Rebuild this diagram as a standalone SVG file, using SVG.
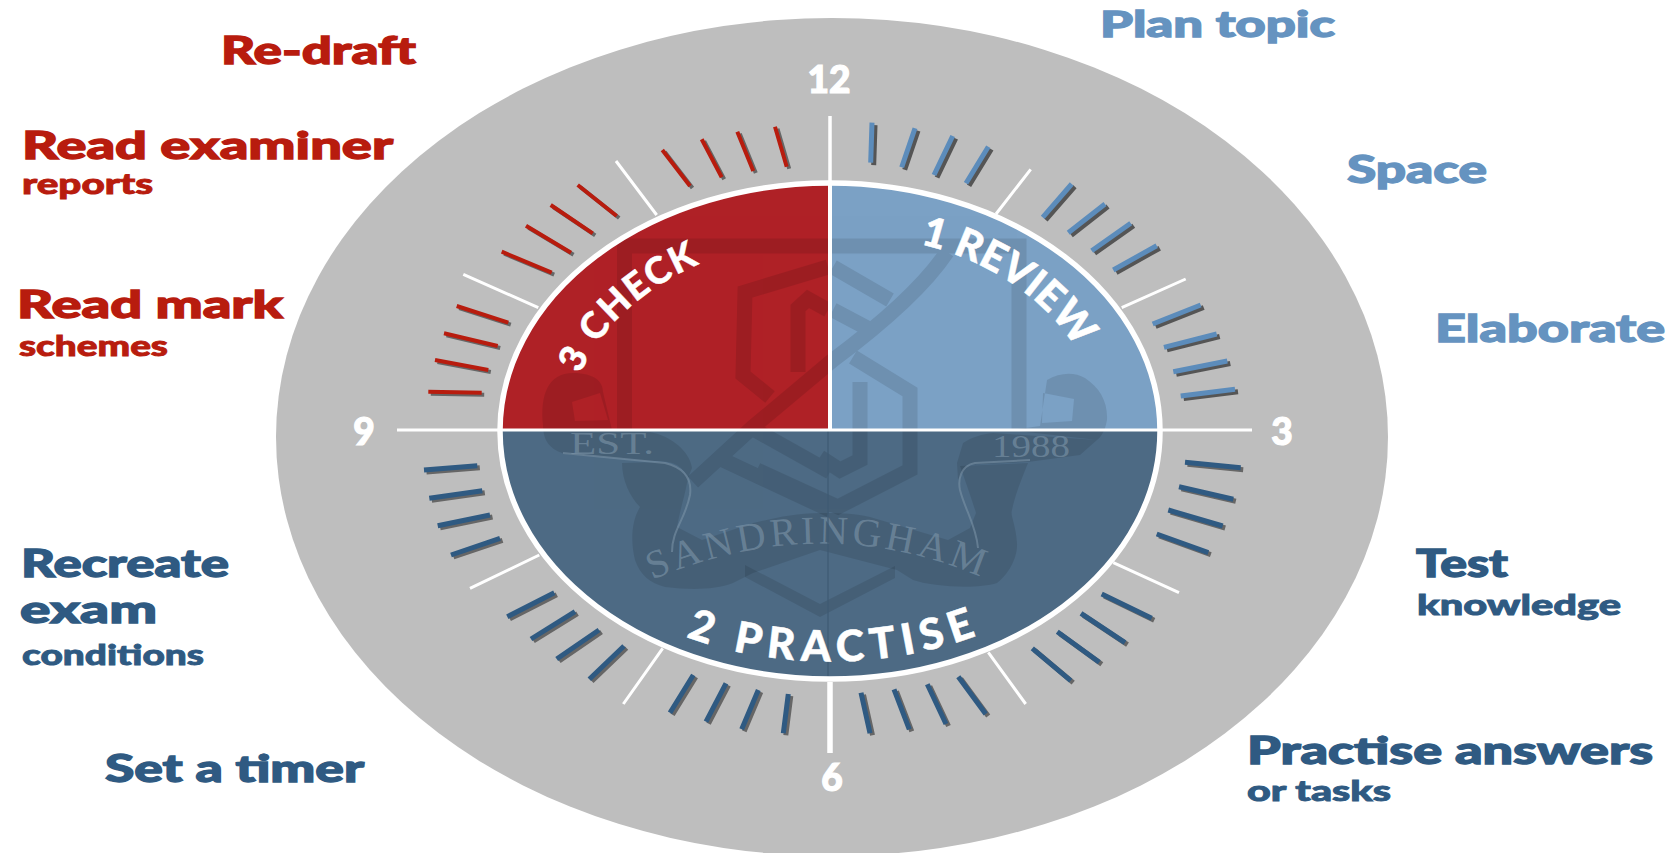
<svg xmlns="http://www.w3.org/2000/svg" xmlns:xlink="http://www.w3.org/1999/xlink" width="1673" height="853" viewBox="0 0 1673 853">
<style>
text{font-family:"Lato","Liberation Sans",sans-serif;font-weight:900}
.big{font-size:38px;stroke-width:1.3px}.small{font-size:29px;stroke-width:.9px}
.red{fill:#b81c0e;stroke:#b81c0e}.light{fill:#6593c0;stroke:#6593c0}.navy{fill:#2f5a82;stroke:#2f5a82}
.num{fill:#fff;stroke:#fff;stroke-width:1.2px;font-size:37px;text-anchor:middle}
.arc{fill:#fff;stroke:#fff;stroke-width:.5px}
.crest{font-family:"Liberation Serif",serif;font-weight:400;fill:#7d95a9;fill-opacity:.62}
.band{fill:none;stroke:#000;stroke-width:15;stroke-linejoin:miter}
.t{fill:none;stroke-width:4;stroke-linecap:butt}
.tb{stroke-width:5}
.wt{fill:none;stroke:#fff;stroke-linecap:butt}
</style>
<defs>
<clipPath id="inner"><ellipse cx="830" cy="431" rx="330" ry="249"/></clipPath>
<path id="tRed" d="M428.3 391.7L481.7 392.7M435 360L488.3 370M444 333.3L497.7 346M456.7 306L508.3 322.7M501.7 251.7L551.7 272.7M526 225.7L571 252.7M550.7 205L592.7 233.3M577.7 185L616.7 216M662.3 150L690 186M701.7 139.3L721.7 177.3M737.3 131.7L753.3 171M775 126.7L786.7 166.7"/>
<path id="tBlue" d="M872 122.7L870.7 162.7M915 128.3L901.7 167.3M952.7 136L934 175M988.3 146.7L966 183.3M1071.7 184L1042.7 217.3M1105 204L1068.3 232.7M1130.7 223.3L1091.7 250.7M1156.7 245.7L1113.3 270M1200.7 305L1152.7 324M1216.7 334L1164 347.3M1227.3 361L1173.3 371.7M1235 389.3L1180.7 396"/>
<path id="tNavy" d="M424 470L477.3 465.7M429.3 498.3L482.3 490.7M437.7 525.7L490 515M451 555L500 538.3M507.3 616.7L554.3 592.7M531 639L575 611.7M556.7 659L599 630M589.3 679.3L624 646M670 712.7L693.3 675M706 721.7L726 683.3M741.7 729.3L758.3 690M783.3 733.3L788.3 694M1185 462.3L1240.7 467.7M1179 486.7L1233.3 499.3M1168.3 510L1222.7 526M1156.7 534L1208.3 552.7M1101.7 594L1151.7 618.3M1081 613.3L1125 642.7M1057.3 631.7L1099.3 662.3M1032.3 648.3L1070.7 680.7M958.3 676.7L985.7 714M927.3 684.3L946 724M894 689.3L909.3 729.3M861 692.7L870 733.3"/>
<path id="arcReview" d="M920 244A258 197 0 0 1 1078 352"/>
<path id="arcCheck" d="M580 374A258 197 0 0 1 700 264"/>
<path id="arcPractise" d="M686 637A320 231 0 0 0 981 634"/>
<path id="arcSand" d="M652 580Q826 507 990 581"/>
</defs>
<rect width="1673" height="853" fill="#fff"/>
<ellipse id="dial" cx="832" cy="437" rx="556" ry="419" fill="#bebebe"/>
<g id="quadrants" clip-path="url(#inner)">
<rect id="q-check" x="470" y="170" width="360" height="260" fill="#af2126"/>
<rect id="q-review" x="830" y="170" width="340" height="260" fill="#7ba1c5"/>
<rect id="q-practise" x="470" y="430" width="700" height="260" fill="#4d6a84"/>
<g id="crest">
<g opacity=".1">
<path class="band" d="M624.5 430V246H1019V430"/>
<path class="band" d="M828 267L745 292L743 375L770 397M833 267L890 300M833 310L867 328M853 357L910 392V470L838 507L757 470M860 382V460L840 470L820 457M798 372V308L808 299L828 310M947 252C925 285 880 325 833 360L753 427L693 482M755 430L830 472M723 460L830 510"/>
</g>
<g fill="#000" fill-opacity=".1" fill-rule="evenodd">
<path d="M543 425C540 395 548 373 573 373C595 373 603 382 603 392L612 430L650 432C672 436 690 452 692 468L688 478C680 462 670 461 650 461L565 454C552 450 543 443 543 425ZM572 402L600 393L608 420L575 421Z"/>
<path d="M622 463C622 480 630 497 640 507C632 520 630 540 635 560C640 575 650 583 665 587C690 590 715 590 733 583L753 573L820 550L897 570L913 580C930 586 975 590 997 583C1008 575 1018 558 1017 543C1016 525 1010 515 1012 510C1015 495 1022 478 1028 463L960 466C965 480 972 500 976 513L970 528L948 540L870 517C855 513 835 513 820 513C795 513 775 518 753 523L702 540L677 527C680 510 685 495 687 483L688 478C680 466 672 463 660 462Z"/>
<path d="M958 480L957 463L963 443C972 437 982 434 993 433L1097 440L1080 455L1028 462L967 465Z"/>
<path d="M1047 380C1060 372 1075 372 1085 378C1100 388 1108 402 1107 420C1105 432 1100 438 1097 440L1010 430L1040 426ZM1043 393L1074 399L1072 421L1042 423Z"/>
<path d="M745 577L820 617L895 578L895 566L820 604L745 565Z"/>
</g>
<g fill="none" stroke="#7d95a9" stroke-opacity=".55" stroke-width="2">
<path d="M563 453L665 463C685 468 692 480 690 495C685 520 672 530 672 552"/>
<path d="M1030 460L975 463C960 466 958 480 960 490C965 510 976 525 978 548"/>
</g>
<text class="crest" x="570" y="454" font-size="31" textLength="84" lengthAdjust="spacingAndGlyphs">EST.</text>
<text class="crest" x="992" y="457" font-size="32" textLength="78" lengthAdjust="spacingAndGlyphs">1988</text>
<text class="crest" font-size="40"><textPath xlink:href="#arcSand" href="#arcSand" textLength="338" lengthAdjust="spacing">SANDRINGHAM</textPath></text>
<path d="M828 430V690" stroke="#3f5a73" stroke-width="1.2" fill="none"/>
</g>
</g>
<g id="connectors">
<g class="wt" stroke-width="3">
<path d="M397 430H1252"/>
<path d="M830 116V181" stroke-width="3.5"/>
<path d="M830 181V430" stroke-width="4"/>
<path d="M616 161L656.7 215M463.3 274.3L538.3 307.7M1030.7 169.3L996 214M1185.7 279L1121.7 307.7M470 588.3L539.3 555M623.3 704L662.7 648.3M1113.3 562.7L1179 592.7M988.3 652.3L1025.7 704"/>
<path d="M830 682V753" stroke-width="5.5"/>
</g>
<ellipse id="rim" cx="830" cy="431" rx="330" ry="248" fill="none" stroke="#fff" stroke-width="5.5"/>
<g id="ticks">
<use href="#tRed" class="t" stroke="#666" transform="translate(2.5 2)"/>
<use href="#tRed" class="t" stroke="#b81c0e"/>
<use href="#tBlue" class="t tb" stroke="#555" transform="translate(3 2.5)"/>
<use href="#tBlue" class="t tb" stroke="#5c8cbb"/>
<use href="#tNavy" class="t tb" stroke="#666" transform="translate(2.5 2)"/>
<use href="#tNavy" class="t tb" stroke="#2f5a82"/>
</g>
</g>
<g id="hours">
<text class="num" x="829" y="93" textLength="43" lengthAdjust="spacingAndGlyphs">12</text>
<text class="num" x="1282" y="445">3</text>
<text class="num" x="832" y="791">6</text>
<text class="num" x="364" y="445">9</text>
</g>
<g id="sector-labels">
<text id="label-review" class="arc" font-size="41"><textPath href="#arcReview" textLength="192" lengthAdjust="spacing">1 REVIEW</textPath></text>
<text id="label-check" class="arc" font-size="37"><textPath href="#arcCheck" textLength="166" lengthAdjust="spacing">3 CHECK</textPath></text>
<text id="label-practise" class="arc" font-size="43"><textPath href="#arcPractise" textLength="296" lengthAdjust="spacing">2 PRACTISE</textPath></text>
</g>
<g id="node-redraft"><text class="big red" x="221" y="64" textLength="195" lengthAdjust="spacingAndGlyphs">Re-draft</text></g>
<g id="node-examiner"><text class="big red" x="22" y="159" textLength="371" lengthAdjust="spacingAndGlyphs">Read examiner</text><text class="small red" x="22" y="194" textLength="131" lengthAdjust="spacingAndGlyphs">reports</text></g>
<g id="node-mark"><text class="big red" x="17" y="318" textLength="266" lengthAdjust="spacingAndGlyphs">Read mark</text><text class="small red" x="19" y="356" textLength="149" lengthAdjust="spacingAndGlyphs">schemes</text></g>
<g id="node-recreate"><text class="big navy" x="21" y="577" textLength="208" lengthAdjust="spacingAndGlyphs">Recreate</text><text class="big navy" x="20" y="623" textLength="137" lengthAdjust="spacingAndGlyphs">exam</text><text class="small navy" x="22" y="665" textLength="182" lengthAdjust="spacingAndGlyphs">conditions</text></g>
<g id="node-timer"><text class="big navy" x="105" y="782" textLength="259" lengthAdjust="spacingAndGlyphs">Set a timer</text></g>
<g id="node-plan"><text class="big light" x="1100" y="37" textLength="235" lengthAdjust="spacingAndGlyphs" style="font-size:36px">Plan topic</text></g>
<g id="node-space"><text class="big light" x="1347" y="183" textLength="140" lengthAdjust="spacingAndGlyphs">Space</text></g>
<g id="node-elaborate"><text class="big light" x="1435" y="342" textLength="230" lengthAdjust="spacingAndGlyphs">Elaborate</text></g>
<g id="node-test"><text class="big navy" x="1416" y="577" textLength="92" lengthAdjust="spacingAndGlyphs">Test</text><text class="small navy" x="1417" y="615" textLength="204" lengthAdjust="spacingAndGlyphs">knowledge</text></g>
<g id="node-answers"><text class="big navy" x="1247" y="764" textLength="406" lengthAdjust="spacingAndGlyphs">Practise answers</text><text class="small navy" x="1247" y="801" textLength="144" lengthAdjust="spacingAndGlyphs">or tasks</text></g>
</svg>
